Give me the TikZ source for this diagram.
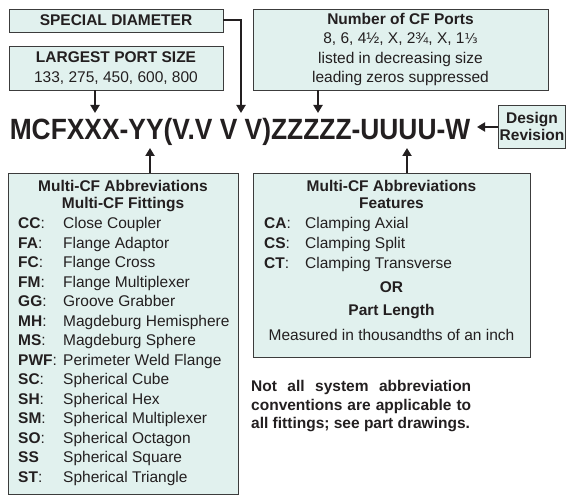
\documentclass[tikz,border=0pt]{standalone}
\usepackage{fontspec}
\setmainfont{Liberation Sans}
\newfontfamily\fracfont{DejaVu Sans}
\usetikzlibrary{arrows.meta}

\definecolor{boxfill}{RGB}{225,241,238}
\definecolor{boxline}{RGB}{60,60,60}
\definecolor{ink}{RGB}{35,31,32}

\newcommand{\fitabbr}[1]{\makebox[45pt][l]{#1}}
\newcommand{\featabbr}[1]{\makebox[41pt][l]{#1}}

\tikzset{
  infobox/.style={draw=boxline, fill=boxfill, line width=0.9pt, inner sep=0pt},
  feed/.style={draw=ink, line width=2pt, -{Triangle[length=8pt,width=9pt]}},
}

\begin{document}
\begin{tikzpicture}[x=1pt, y=-1pt,
    every node/.style={text=ink, font=\fontsize{15.5}{19.5}\selectfont}]
    \useasboundingbox (0,0) rectangle (566,503);

    % part number
    \node (partno) at (240,131.5) {\fontsize{29.3}{30}\selectfont\bfseries\scalebox{0.9}[1]{MCFXXX-YY(V.V V V)ZZZZZ-UUUU-W}};
    \coordinate (diamtip) at (241,113);
    \coordinate (sizetip) at (95,113);
    \coordinate (portstip) at (318,113);
    \coordinate (fittip) at (150,148);
    \coordinate (feattip) at (407,148);
    \coordinate (revtip) at (477,127);

    % boxes above
    \node[infobox, minimum width=214, minimum height=23] (special) at (116,20.5) {\textbf{SPECIAL DIAMETER}};
    \node[infobox, minimum width=214, minimum height=44, align=center,
          font=\fontsize{15.5}{20}\selectfont] (largest) at (116,68)
          {\textbf{LARGEST PORT SIZE}\\133, 275, 450, 600, 800};
    \node[infobox, minimum width=295, minimum height=81, align=center,
          font=\fontsize{15.5}{19.2}\selectfont] (ports) at (400.5,49.5)
          {\textbf{Number of CF Ports}\\8, 6, 4½, X, 2¾, X, 1{\fracfont\fontsize{13.5}{15}\selectfont ⅓}\\listed in decreasing size\\leading zeros suppressed};
    \node[infobox, minimum width=67, minimum height=43, align=center,
          font=\fontsize{15.5}{17}\selectfont] (design) at (532,126.5)
          {\textbf{Design}\\\textbf{Revision}};

    % boxes below
    \node[infobox, minimum width=230, minimum height=321] (fittings) at (123,333.5) {};
    \node at (123,186) {\textbf{Multi-CF Abbreviations}};
    \node at (123,204.5) {\textbf{Multi-CF Fittings}};
    \node[anchor=west, align=left, inner sep=0pt, font=\fontsize{15.5}{19.54}\selectfont] (fitlist) at (18,351.5)
        {\fitabbr{\textbf{CC}:}Close Coupler\\
         \fitabbr{\textbf{FA}:}Flange Adaptor\\
         \fitabbr{\textbf{FC}:}Flange Cross\\
         \fitabbr{\textbf{FM}:}Flange Multiplexer\\
         \fitabbr{\textbf{GG}:}Groove Grabber\\
         \fitabbr{\textbf{MH}:}Magdeburg Hemisphere\\
         \fitabbr{\textbf{MS}:}Magdeburg Sphere\\
         \fitabbr{\textbf{PWF}:}Perimeter Weld Flange\\
         \fitabbr{\textbf{SC}:}Spherical Cube\\
         \fitabbr{\textbf{SH}:}Spherical Hex\\
         \fitabbr{\textbf{SM}:}Spherical Multiplexer\\
         \fitabbr{\textbf{SO}:}Spherical Octagon\\
         \fitabbr{\textbf{SS}}Spherical Square\\
         \fitabbr{\textbf{ST}:}Spherical Triangle};

    \node[infobox, minimum width=277, minimum height=184] (features) at (391.5,265) {};
    \node at (391.5,186) {\textbf{Multi-CF Abbreviations}};
    \node at (391.5,203) {\textbf{Features}};
    \node[anchor=west, align=left, inner sep=0pt, font=\fontsize{15.5}{20}\selectfont] (featlist) at (264,244.5)
        {\featabbr{\textbf{CA}:}Clamping Axial\\
         \featabbr{\textbf{CS}:}Clamping Split\\
         \featabbr{\textbf{CT}:}Clamping Transverse};
    \node at (391.5,287) {\textbf{OR}};
    \node at (391.5,311.5) {\textbf{Part Length}};
    \node at (391.5,335) {Measured in thousandths of an inch};

    \node[anchor=north west, inner sep=0pt, text width=220, align=justify,
          font=\fontsize{15.5}{18.5}\selectfont\bfseries] (note) at (251,380.2)
        {Not all system abbreviation\linebreak conventions are applicable to\linebreak all fittings; see part drawings.};

    % arrows into the part number
    \draw[feed] (special.east) -| (diamtip);
    \draw[feed] (largest.south -| sizetip) -- (sizetip);
    \draw[feed] (ports.south -| portstip) -- (portstip);
    \draw[feed] (fittings.north -| fittip) -- (fittip);
    \draw[feed] (features.north -| feattip) -- (feattip);
    \draw[feed] (design.west |- revtip) -- (revtip);

\end{tikzpicture}
\end{document}
